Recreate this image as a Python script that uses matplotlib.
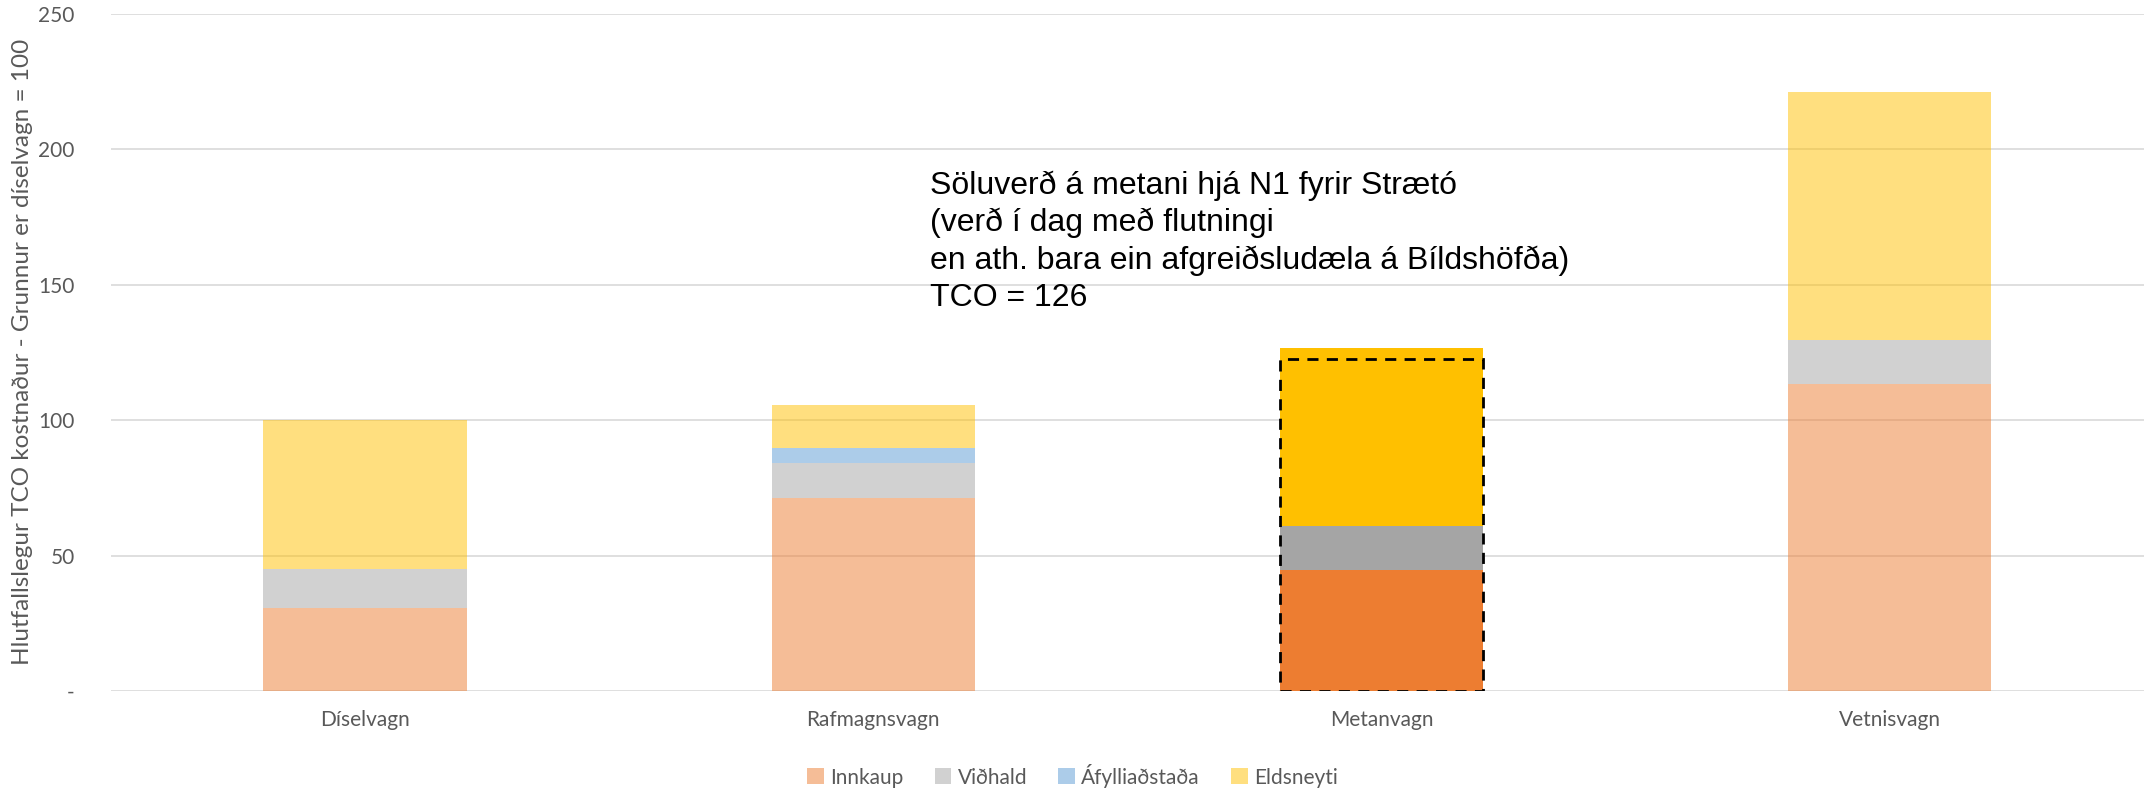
import matplotlib.pyplot as plt
from matplotlib.patches import Rectangle

categories = ['Díselvagn', 'Rafmagnsvagn', 'Metanvagn', 'Vetnisvagn']
innkaup = [30.5, 71.2, 44.7, 113.3]
vidhald = [14.5, 13.1, 16.3, 16.1]
afyllistod = [0, 5.3, 0, 0]
eldsneyti = [55.0, 16.0, 65.5, 91.7]
metan_dashed_top = 122.4

series_names = ['Innkaup', 'Viðhald', 'Áfylliaðstaða', 'Eldsneyti']
colors = ['#ED7D31', '#A5A5A5', '#5B9BD5', '#FFC000']

plt.rcParams['font.family'] = ['Lato', 'DejaVu Sans']

fig = plt.figure(figsize=(21.45, 7.89), dpi=100)
ax = fig.add_axes([0.0517, 0.1242, 0.9478, 0.8584])

x = list(range(len(categories)))
series = [innkaup, vidhald, afyllistod, eldsneyti]
bottom = [0.0] * len(categories)
handles = []
for name, vals, c in zip(series_names, series, colors):
    for i, v in enumerate(vals):
        # metanvagn er með heilum lit, hinir hálfgegnsæir
        alpha = 1.0 if i == 2 else 0.5
        ax.bar(i, v, 0.4, bottom=bottom[i], color=c, alpha=alpha, linewidth=0, zorder=2)
    handles.append(Rectangle((0, 0), 1, 1, color=c, alpha=0.5, linewidth=0))
    bottom = [b + v for b, v in zip(bottom, vals)]

ax.add_patch(Rectangle((2 - 0.2, 0), 0.4, metan_dashed_top, fill=False,
                       edgecolor='black', linestyle=(0, (4, 3)), linewidth=2, zorder=3))

ax.set_xlim(-0.5, 3.5)
ax.set_ylim(0, 250)
ax.set_yticks([0, 50, 100, 150, 200, 250])
ax.set_yticklabels(['-', '50', '100', '150', '200', '250'])
ax.set_xticks(x)
ax.set_xticklabels(categories)
ax.tick_params(axis='both', length=0, labelsize=15, colors='#595959')
ax.tick_params(axis='y', pad=26)
ax.tick_params(axis='x', pad=14)
ax.grid(axis='y', color='#D9D9D9', linewidth=1.2, zorder=1)
ax.set_axisbelow(True)
for s in ax.spines.values():
    s.set_visible(False)

ax.set_ylabel('Hlutfallslegur TCO kostnaður - Grunnur er díselvagn = 100',
              fontsize=17.5, color='#595959', labelpad=4)

fig.text(0.4336, 0.784,
         'Söluverð á metani hjá N1 fyrir Strætó\n(verð í dag með flutningi\n'
         'en ath. bara ein afgreiðsludæla á Bíldshöfða)\nTCO = 126',
         fontsize=23, family=['Liberation Sans', 'DejaVu Sans'], color='black',
         va='top', ha='left', linespacing=1.3)

fig.legend(handles, series_names, loc='center', bbox_to_anchor=(0.5, 0.017), ncol=4,
           frameon=False, fontsize=15, labelcolor='#595959', handlelength=0.8,
           handleheight=0.8, handletextpad=0.3, columnspacing=1.5)

fig.savefig('out.png', dpi=100)
